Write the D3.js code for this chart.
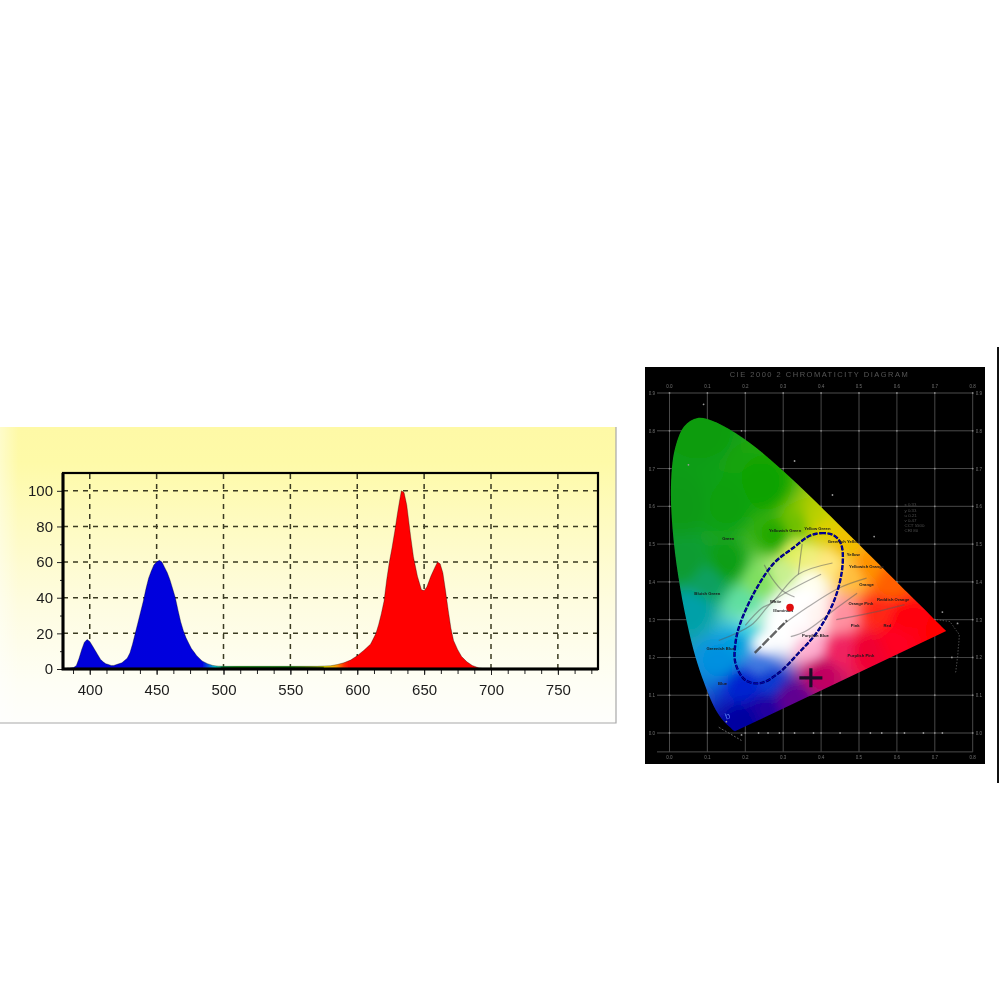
<!DOCTYPE html>
<html><head><meta charset="utf-8"><style>html,body{margin:0;padding:0;background:#fff}svg{display:block}</style>
<script src="https://cdn.jsdelivr.net/npm/d3@7/dist/d3.min.js"></script></head><body><div id="c"></div><script>
// ---------- spectrum values ----------
const wavelengths=[383,385,388,390,392,394,396,398,400,402,404,406,408,410,412,414,416,418,420,424,428,430,432,434,436,438,440,442,444,446,448,450,452,454,456,458,460,462,464,466,468,470,472,474,476,478,480,484,488,492,496,500,520,550,570,580,585,590,595,600,605,610,614,616,618,620,622,624,626,628,630,632,633,635,637,640,642,645,648,650,652,655,658,660,662,664,666,668,670,672,675,678,682,686,691,696];
const intensities=[0.5,0.5,0.8,2,6,11,15,16.5,15.5,13,10.5,8,5.5,4,3,2.5,2,2,2.5,3.5,6,9,14,20,26,32,38,45,51,55,58.5,60,61,60,57,54,50,45,40,33,26.5,21.5,17.5,14.5,11.5,9.5,7.5,4.5,3,2,1.6,1.5,1.5,1.5,1.5,1.8,2.5,3.5,5,7.5,10.5,14,20,25,31,38,50,60,68,77,87,96,100,99,92,74,63,52,44.5,44,46,52,57,60,59,54,44,33,23,16,11,7,4,2,0.6,0];
const spectrumTicksX=[400,450,500,550,600,650,700,750];
const spectrumMinorX=[387.5,400,412.5,425,437.5,450,462.5,475,487.5,500,512.5,525,537.5,550,562.5,575,587.5,600,612.5,625,637.5,650,662.5,675,687.5,700,712.5,725,737.5,750,762.5,775];
const spectrumTicksY=[0,20,40,60,80,100];
const spectrumMinorY=[10,30,50,70,90];
// ---------- CIE 1931 spectral locus ----------
const locusX=[.1741,.1714,.1644,.1566,.1440,.1241,.1096,.0913,.0687,.0454,.0235,.0082,.0039,.0139,.0389,.0743,.1142,.1547,.1929,.2296,.2658,.3016,.3373,.3731,.4087,.4441,.4788,.5125,.5448,.5752,.6029,.6270,.6658,.6915,.7079,.7260,.7300];
const locusY=[.0050,.0051,.0109,.0177,.0297,.0578,.0868,.1327,.2007,.2950,.4127,.5384,.6548,.7502,.8120,.8338,.8262,.8059,.7816,.7543,.7243,.6923,.6589,.6245,.5896,.5547,.5202,.4866,.4544,.4242,.3965,.3725,.3340,.3083,.2920,.2740,.2700];
const ellipseX=[.434,.408,.372,.325,.275,.227,.187,.174,.174,.200,.240,.287,.340,.393,.438,.457,.452];
const ellipseY=[.523,.529,.523,.489,.449,.378,.291,.238,.185,.140,.132,.158,.211,.272,.360,.449,.502];
const gridX=[0,.1,.2,.3,.4,.5,.6,.7,.8];
const gridY=[0,.1,.2,.3,.4,.5,.6,.7,.8,.9];
const regionLabels=["Green","Yellowish Green","Yellow Green","Greenish Yellow","Yellow","Yellowish Orange","Orange","Bluish Green","Orange Pink","Reddish Orange","Greenish Blue","Purplish Pink","White","Illuminant","Blue","Pink","Red","Purplish Blue"];
const regionLabelX=[.155,.305,.39,.46,.485,.52,.52,.10,.505,.59,.135,.505,.28,.30,.14,.49,.575,.385];
const regionLabelY=[.51,.533,.537,.504,.468,.436,.388,.364,.34,.35,.22,.20,.345,.32,.127,.28,.28,.255];
// chromaticity fill: colours at chromaticity points
const fillX=[.07,.03,.15,.25,.04,.15,.28,.34,.40,.46,.52,.58,.48,.72,.62,.55,.60,.45,.45,.52,.40,.32,.20,.25,.20,.26,.14,.18,.06,.21,.30,.33,.37,.25,.39,.35,.22,.24,.33,.42,.37,.24,.20,.30,.36,.30,.28,.36,.34,.10,.38];
const fillY=[.80,.60,.60,.65,.45,.45,.52,.55,.54,.50,.44,.40,.42,.27,.30,.32,.25,.31,.22,.22,.16,.09,.03,.06,.13,.14,.20,.24,.33,.28,.32,.35,.40,.24,.32,.28,.30,.40,.48,.45,.23,.185,.34,.42,.46,.26,.29,.36,.30,.40,.56];
const fillC=["#0a9c10","#0a9a18","#08a010","#0ca200","#0c9c30","#0c9e12","#20a800","#70c000","#e0d000","#f0c000","#ff9000","#ff6000","#ffc040","#ff0000","#ff0010","#ff2818","#ff0020","#ff90a0","#f02060","#f00030","#c00060","#600090","#0000a0","#2000a0","#0020d0","#0838d0","#0090e0","#00a0e0","#00a0a8","#40d0e0","#ffffff","#ffffff","#fffff0","#ffffff","#fff4f0","#fff6f8","#b0f0d0","#80e060","#e0f060","#ffe880","#ffb0d0","#4078e0","#60e0a0","#c8f090","#f0f080","#ffffff","#ffffff","#ffffff","#ffffff","#08a060","#b8d000"];

const W=1000,H=1000;
const svg=d3.select("#c").append("svg").attr("width",W).attr("height",H);
const defs=svg.append("defs");
const mkBlur=(id,s)=>defs.append("filter").attr("id",id).attr("filterUnits","userSpaceOnUse").attr("x",0).attr("y",0).attr("width",W).attr("height",H).append("feGaussianBlur").attr("stdDeviation",s);
mkBlur("soft",0.45);mkBlur("soft2",0.7);mkBlur("field",5);

// ---------- spectrum panel ----------
const bg=defs.append("linearGradient").attr("id","panel").attr("x1",0).attr("x2",0).attr("y1",0).attr("y2",1);
[[0,"#fef9a6"],[.12,"#fefaa8"],[.35,"#fefbc4"],[.6,"#fefce0"],[.85,"#fefef4"],[1,"#fefefc"]].forEach(d=>bg.append("stop").attr("offset",d[0]).attr("stop-color",d[1]));
const left=defs.append("linearGradient").attr("id","panelL").attr("x1",0).attr("x2",1).attr("y1",0).attr("y2",0);
[[0,.4],[.03,0]].forEach(d=>left.append("stop").attr("offset",d[0]).attr("stop-color","#fff").attr("stop-opacity",d[1]));
const gS=svg.append("g").attr("filter","url(#soft)");
gS.append("rect").attr("x",0).attr("y",427).attr("width",616).attr("height",296).attr("fill","url(#panel)");
gS.append("rect").attr("x",0).attr("y",427).attr("width",616).attr("height",296).attr("fill","url(#panelL)");
gS.append("path").attr("d","M0,723H616V427").attr("fill","none").attr("stroke","#a8a8a8").attr("stroke-width",1.2);

const x=d3.scaleLinear().domain([380,780]).range([63,598]);
const y=d3.scaleLinear().domain([0,110]).range([669,473]);
const grid=gS.append("g").attr("fill","none").attr("stroke","#3a3a20").attr("stroke-width",1.5).attr("stroke-dasharray","5 5");
grid.selectAll("line.v").data(spectrumTicksX).join("line").attr("class","v").attr("x1",d=>x(d)).attr("x2",d=>x(d)).attr("y1",y(0)).attr("y2",y(110));
grid.selectAll("line.h").data(spectrumTicksY.slice(1)).join("line").attr("class","h").attr("x1",x(380)).attr("x2",x(780)).attr("y1",d=>y(d)).attr("y2",d=>y(d));

const sg=defs.append("linearGradient").attr("id","spec").attr("gradientUnits","userSpaceOnUse").attr("x1",x(380)).attr("x2",x(780)).attr("y1",0).attr("y2",0);
[[380,"#0000d8"],[484,"#0000e0"],[490,"#0070e0"],[494,"#00c8c0"],[500,"#00b050"],[510,"#00a000"],[550,"#109800"],[565,"#80b000"],[576,"#e8e000"],[584,"#f8a000"],[590,"#ff3000"],[595,"#ff0000"],[780,"#ff0000"]]
 .forEach(d=>sg.append("stop").attr("offset",(d[0]-380)/400).attr("stop-color",d[1]));
const pts=wavelengths.map((w,i)=>[w,intensities[i]]);
gS.append("path").datum(pts).attr("fill","url(#spec)").attr("d",d3.area().x(d=>x(d[0])).y0(y(0)).y1(d=>y(d[1])));
gS.append("path").datum(pts).attr("fill","none").attr("stroke","#000").attr("stroke-opacity",.35).attr("stroke-width",.9).attr("d",d3.line().x(d=>x(d[0])).y(d=>y(d[1])));
gS.append("line").attr("x1",x(498)).attr("x2",x(575)).attr("y1",y(0)-1.5).attr("y2",y(0)-1.5).attr("stroke","#003000").attr("stroke-width",1.5).attr("stroke-opacity",.6);

const fnt="'Liberation Sans',Arial,sans-serif";
const axB=gS.append("g").attr("transform",`translate(0,${y(0)})`).call(d3.axisBottom(x).tickValues(spectrumTicksX).tickSize(6).tickPadding(9).tickFormat(d3.format("d")));
const axBm=gS.append("g").attr("transform",`translate(0,${y(0)})`).call(d3.axisBottom(x).tickValues(spectrumMinorX).tickSize(5).tickFormat(""));
const axL=gS.append("g").attr("transform",`translate(${x(380)},0)`).call(d3.axisLeft(y).tickValues(spectrumTicksY).tickSize(6).tickPadding(4).tickFormat(d3.format("d")));
const axLm=gS.append("g").attr("transform",`translate(${x(380)},0)`).call(d3.axisLeft(y).tickValues(spectrumMinorY).tickSize(3).tickFormat(""));
[axB,axBm,axL,axLm].forEach(a=>{a.select(".domain").remove();a.selectAll("line").attr("stroke","#222").attr("stroke-width",1);a.selectAll("text").attr("font-family",fnt).attr("font-size",15).attr("fill","#1c1c1c");});
gS.append("rect").attr("x",x(380)).attr("y",y(110)).attr("width",x(780)-x(380)).attr("height",y(0)-y(110)).attr("fill","none").attr("stroke","#000").attr("stroke-width",2.2);
gS.append("path").attr("d",`M${x(380)},${y(110)}V${y(0)}H${x(780)}`).attr("fill","none").attr("stroke","#000").attr("stroke-width",3);

// ---------- chromaticity diagram ----------
const cx=d3.scaleLinear().domain([0,.8]).range([669.5,972.7]);
const cy=d3.scaleLinear().domain([0,.9]).range([733,393]);
const gC=svg.append("g").attr("filter","url(#soft2)");
gC.append("rect").attr("x",645).attr("y",367).attr("width",340).attr("height",397).attr("fill","#020202");
gC.append("text").attr("x",819.5).attr("y",377).attr("text-anchor","middle").attr("font-family",fnt).attr("font-size",7.5).attr("letter-spacing","1.5").attr("fill","#565656").text("CIE 2000 2 CHROMATICITY DIAGRAM");
const cg=gC.append("g").attr("stroke","#505050").attr("stroke-width",.9);
cg.selectAll("line.v").data(gridX).join("line").attr("class","v").attr("x1",d=>cx(d)).attr("x2",d=>cx(d)).attr("y1",cy(.9)).attr("y2",cy(-.05));
cg.selectAll("line.h").data(gridY.concat([-.05])).join("line").attr("class","h").attr("x1",cx(-.033)).attr("x2",cx(.8)).attr("y1",d=>cy(d)).attr("y2",d=>cy(d));
const dots=gC.append("g").attr("fill","#8a8a8a");
gridX.forEach(a=>gridY.forEach(b=>dots.append("circle").attr("cx",cx(a)).attr("cy",cy(b)).attr("r",.9)));
const tlab=gC.append("g").attr("font-family",fnt).attr("font-size",4.5).attr("fill","#707070").attr("text-anchor","middle");
gridX.forEach(a=>{tlab.append("text").attr("x",cx(a)).attr("y",388).text(a.toFixed(1));tlab.append("text").attr("x",cx(a)).attr("y",759).text(a.toFixed(1));});
gridY.forEach(b=>{tlab.append("text").attr("x",652).attr("y",cy(b)+2).text(b.toFixed(1));tlab.append("text").attr("x",979).attr("y",cy(b)+2).text(b.toFixed(1));});

// smooth colour field painted from the colours read at the chromaticity points
const fx0=640,fy0=395,fw=340,fh=365;
const canvas=document.createElement("canvas");canvas.width=fw;canvas.height=fh;
const ctx=canvas.getContext("2d"),im=ctx.createImageData(fw,fh);
const rgb=fillC.map(c=>d3.rgb(c));
for(let j=0;j<fh;j++)for(let i=0;i<fw;i++){
  const u=cx.invert(fx0+i),v=cy.invert(fy0+j);let r=0,g=0,b=0,s=0;
  for(let k=0;k<rgb.length;k++){const dx=u-fillX[k],dy=v-fillY[k];const w=1/Math.pow(dx*dx+dy*dy+1e-5,2.2);r+=w*rgb[k].r;g+=w*rgb[k].g;b+=w*rgb[k].b;s+=w;}
  const p=(j*fw+i)*4;im.data[p]=r/s;im.data[p+1]=g/s;im.data[p+2]=b/s;im.data[p+3]=255;
}
ctx.putImageData(im,0,0);
const locus=locusX.map((v,i)=>[cx(v),cy(locusY[i])]);
defs.append("clipPath").attr("id","shoe").append("path").attr("d",d3.line().curve(d3.curveCatmullRom)(locus)+"Z");
gC.append("g").attr("clip-path","url(#shoe)").append("image").attr("filter","url(#field)").attr("x",fx0).attr("y",fy0).attr("width",fw).attr("height",fh).attr("href",canvas.toDataURL());

// region boundaries
const regionLinesX=[[.13,.215,.275,.40],[.20,.243,.27,.34,.43],[.32,.36,.44,.495],[.34,.346,.35],[.29,.36,.45,.52],[.44,.54,.62],[.25,.27,.30,.33]];
const regionLinesY=[[.245,.285,.35,.42],[.285,.33,.345,.42,.45],[.255,.27,.33,.37],[.42,.47,.50],[.28,.33,.385,.41],[.30,.32,.34],[.445,.41,.375,.36]];
gC.append("g").selectAll("path").data(regionLinesX).join("path").attr("fill","none").attr("stroke","#5a5a5a").attr("stroke-opacity",.5).attr("stroke-width",1.2)
 .attr("d",(d,i)=>d3.line().curve(d3.curveCatmullRom)(d.map((v,j)=>[cx(v),cy(regionLinesY[i][j])])));
const locusLineX=[.225,.31],locusLineY=[.212,.298];
gC.append("line").attr("x1",cx(locusLineX[0])).attr("y1",cy(locusLineY[0])).attr("x2",cx(locusLineX[1])).attr("y2",cy(locusLineY[1])).attr("stroke","#333").attr("stroke-width",2.4).attr("stroke-dasharray","9 2").attr("stroke-opacity",.75);

// ellipse
const el=ellipseX.map((v,i)=>[cx(v),cy(ellipseY[i])]);
const elPath=d3.line().curve(d3.curveCatmullRomClosed)(el);
gC.append("path").attr("d",elPath).attr("fill","none").attr("stroke","#000060").attr("stroke-width",2.4).attr("stroke-dasharray","5 1.6");
gC.append("path").attr("d",elPath).attr("fill","none").attr("stroke","#0000c0").attr("stroke-width",1).attr("stroke-dasharray","5 1.6");

// region labels
gC.append("g").selectAll("text").data(regionLabels).join("text").attr("x",(d,i)=>cx(regionLabelX[i])).attr("y",(d,i)=>cy(regionLabelY[i])).attr("text-anchor","middle").attr("font-family",fnt).attr("font-weight","bold").attr("font-size",4.2).attr("fill","#1a1a1a").text(d=>d);

// working point and cross mark
const pointX=[.318],pointY=[.332];
gC.selectAll("circle.pt").data(pointX).join("circle").attr("class","pt").attr("cx",d=>cx(d)).attr("cy",(d,i)=>cy(pointY[i])).attr("r",3.8).attr("fill","#e00c10");
const crossX=.373,crossY=.146;
gC.append("path").attr("d",`M${cx(crossX)-11.5},${cy(crossY)}h23M${cx(crossX)},${cy(crossY)-9.5}v19`).attr("stroke","#1c0c28").attr("stroke-width",3.2).attr("fill","none");

// faint wavelength markers and legend
const markX=[.05,.09,.19,.33,.43,.54,.72,.76,.745,.15,.19,.235,.26,.29,.33,.38,.45,.53,.56,.62,.67,.72];
const markY=[.71,.87,.80,.72,.63,.52,.32,.29,.2,0.03,-.005,.0,.0,.0,.0,.0,.0,.0,.0,.0,.0,.0];
gC.append("g").selectAll("circle").data(markX).join("circle").attr("cx",d=>cx(d)).attr("cy",(d,i)=>cy(markY[i])).attr("r",.9).attr("fill","#9a9a9a");
const legendLabels=["x 0.33","y 0.33","u 0.21","v 0.47","CCT 5500","CRI 80"];
gC.append("g").selectAll("text").data(legendLabels).join("text").attr("x",cx(.62)).attr("y",(d,i)=>cy(.60)+i*5.2).attr("font-family",fnt).attr("font-size",4.4).attr("fill","#4c4c4c").text(d=>d);
const cornerX=[.705,.74,.765,.76,.755],cornerY=[.30,.295,.26,.2,.16];
gC.append("path").attr("d",d3.line()(cornerX.map((v,i)=>[cx(v),cy(cornerY[i])]))).attr("fill","none").attr("stroke","#777").attr("stroke-width",.6).attr("stroke-dasharray","1.5 1.5");
const tailX=[.13,.165,.19],tailY=[.015,-.005,-.02];
gC.append("path").attr("d",d3.line()(tailX.map((v,i)=>[cx(v),cy(tailY[i])]))).attr("fill","none").attr("stroke","#888").attr("stroke-width",.7).attr("stroke-dasharray","2 1.5");
gC.append("text").attr("x",cx(.15)).attr("y",cy(.035)).attr("font-family",fnt).attr("font-size",9).attr("fill","#5a78f0").attr("transform",`rotate(-20 ${cx(.15)} ${cy(.035)})`).text("b");

// divider on the right
svg.append("line").attr("x1",998).attr("x2",998).attr("y1",347).attr("y2",783).attr("stroke","#111").attr("stroke-width",2);
</script></body></html>
